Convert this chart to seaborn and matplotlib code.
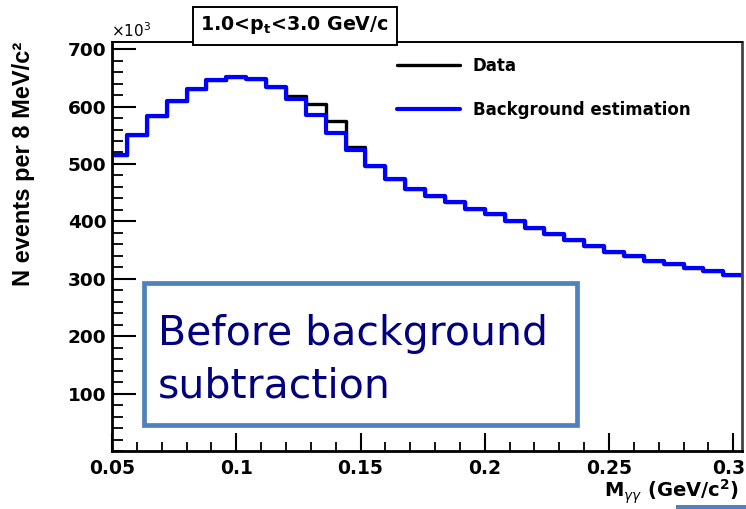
import numpy as np
import pandas as pd
import matplotlib
matplotlib.use("Agg")
import matplotlib.pyplot as plt
import matplotlib.transforms as mtransforms
import seaborn as sns
from matplotlib.lines import Line2D
from matplotlib.patches import Rectangle
from matplotlib.ticker import FixedLocator, MultipleLocator

# ---------------- data (values in units of 10^3 events) ----------------
bin_edges = [0.048, 0.056, 0.064, 0.072, 0.080, 0.088, 0.096, 0.104, 0.112,
             0.120, 0.128, 0.136, 0.144, 0.152, 0.160, 0.168, 0.176, 0.184,
             0.192, 0.200, 0.208, 0.216, 0.224, 0.232, 0.240, 0.248, 0.256,
             0.264, 0.272, 0.280, 0.288, 0.296, 0.304]
background = [515, 550, 584, 610, 630, 646, 652, 648, 634, 613, 585, 554,
              524, 496, 474, 456, 444, 433, 421, 412, 401, 388, 378, 368,
              357, 347, 339, 331, 326, 319, 314, 307]
data = [515, 550, 584, 610, 630, 646, 652, 648, 634, 619, 604, 574,
        529, 496, 474, 456, 444, 433, 421, 412, 401, 388, 378, 368,
        357, 347, 339, 331, 326, 319, 314, 307]
x_ticks = [0.05, 0.10, 0.15, 0.20, 0.25, 0.30]
x_tick_labels = ["0.05", "0.1", "0.15", "0.2", "0.25", "0.3"]
y_ticks = [100, 200, 300, 400, 500, 600, 700]
y_tick_labels = ["100", "200", "300", "400", "500", "600", "700"]
legend_labels = ["Data", "Background estimation"]
title_text = "1.0<p$_{\\mathbf{t}}$<3.0 GeV/c"
x_label = "M$_{\\gamma\\gamma}$ (GeV/c$^{\\mathbf{2}}$)"
y_label = "N events per 8 MeV/c²"
overlay_lines = ["Before background", "subtraction"]

# ---------------- style ----------------
sns.set_theme(style="white")
plt.rcParams["font.family"] = ["DejaVu Sans"]
plt.rcParams["mathtext.fontset"] = "dejavusans"
plt.rcParams["text.color"] = "black"
plt.rcParams["axes.labelcolor"] = "black"
plt.rcParams["xtick.color"] = "black"
plt.rcParams["ytick.color"] = "black"

W, H = 746, 509
fig = plt.figure(figsize=(W / 100, H / 100), dpi=100)
fig.patch.set_facecolor("white")


def fx(px):
    return px / W


def fy(py):
    return 1 - py / H


ax = fig.add_axes([fx(112), fy(451), (742 - 112) / W, (451 - 41.7) / H])
ax.set_facecolor("white")

centers = [(a + b) / 2 for a, b in zip(bin_edges[:-1], bin_edges[1:])]
df = pd.DataFrame({"m": centers, "data": data, "bkg": background})

sns.histplot(data=df, x="m", weights="data", bins=bin_edges, element="step",
             fill=False, color="black", linewidth=2.4, ax=ax)
sns.histplot(data=df, x="m", weights="bkg", bins=bin_edges, element="step",
             fill=False, color="#0000ff", linewidth=3.0, ax=ax)

ax.set_xlim(0.05, 0.3035)
ax.set_ylim(0, 713)
ax.set_xlabel("")
ax.set_ylabel("")

ax.xaxis.set_major_locator(FixedLocator(x_ticks))
ax.set_xticklabels(x_tick_labels, fontweight="bold", color="black")
ax.xaxis.set_minor_locator(MultipleLocator(0.01))
ax.yaxis.set_major_locator(FixedLocator(y_ticks))
ax.set_yticklabels(y_tick_labels, fontweight="bold", color="black")
ax.yaxis.set_minor_locator(MultipleLocator(20))

ax.tick_params(axis="x", which="major", direction="in", length=13, width=1.5,
               pad=6, labelsize=13.5, colors="black", bottom=True, top=False)
ax.tick_params(axis="x", which="minor", direction="in", length=6.5, width=1.3,
               colors="black", bottom=True, top=False)
ax.tick_params(axis="y", which="major", direction="in", length=17, width=1.5,
               pad=4, labelsize=13.3, colors="black", left=True, right=False)
ax.tick_params(axis="y", which="minor", direction="in", length=8, width=1.3,
               colors="black", left=True, right=False)

# keep the last x label inside the picture
last = ax.get_xticklabels()[-1]
last.set_transform(last.get_transform() +
                   mtransforms.ScaledTranslation(-5 / 100, 0, fig.dpi_scale_trans))

for side, lw, col in [("left", 2.0, "black"), ("bottom", 2.0, "black"),
                      ("top", 1.4, "black"), ("right", 2.0, "#444444")]:
    ax.spines[side].set_visible(True)
    ax.spines[side].set_linewidth(lw)
    ax.spines[side].set_color(col)

# legend (no frame, ROOT style)
handles = [Line2D([], [], color="black", lw=2.4),
           Line2D([], [], color="#0000ff", lw=3.0)]
ax.legend(handles=handles, labels=legend_labels, frameon=False,
          loc="upper left", bbox_to_anchor=(fx(397), fy(57)),
          bbox_transform=fig.transFigure,
          prop={"weight": "bold", "size": 12, "family": "DejaVu Sans"},
          handlelength=3.8, handletextpad=0.75, labelspacing=1.55,
          borderpad=0, borderaxespad=0, labelcolor="black")

# title box
fig.add_artist(Rectangle((fx(193), fy(45)), (397 - 193) / W, (45 - 7) / H,
                         transform=fig.transFigure, facecolor="white",
                         edgecolor="black", linewidth=1.4, zorder=5))
fig.text(fx(200), fy(30), title_text, ha="left", va="baseline", fontsize=13.7,
         fontweight="bold", color="black", zorder=6)

# x10^3 multiplier
fig.text(fx(111), fy(37), "×10$^{3}$", ha="left", va="baseline", fontsize=11,
         color="black", zorder=6)

# axis titles
fig.text(fx(738), fy(497), x_label, ha="right", va="baseline", fontsize=14,
         fontweight="bold", color="black")
fig.text(fx(24), fy(42), y_label, ha="center", va="top", rotation=90,
         fontsize=17, fontweight="bold", color="black",
         family=["Liberation Sans", "DejaVu Sans"])

# overlay annotation box
fig.add_artist(Rectangle((fx(144), fy(425)), (577 - 144) / W, (425 - 283) / H,
                         transform=fig.transFigure, facecolor="white",
                         edgecolor="#4f81bd", linewidth=3.4, zorder=5))
fig.text(fx(158), fy(345), overlay_lines[0], ha="left", va="baseline",
         fontsize=29.5, color="#000080", zorder=6)
fig.text(fx(158), fy(398), overlay_lines[1], ha="left", va="baseline",
         fontsize=29.5, color="#000080", zorder=6)

# piece of another shape at the bottom right edge
fig.add_artist(Rectangle((fx(676), fy(509)), (746 - 676) / W, 4 / H,
                         transform=fig.transFigure, facecolor="#4f81bd",
                         edgecolor="none", zorder=5))

fig.savefig("out.png", dpi=100, facecolor="white")
